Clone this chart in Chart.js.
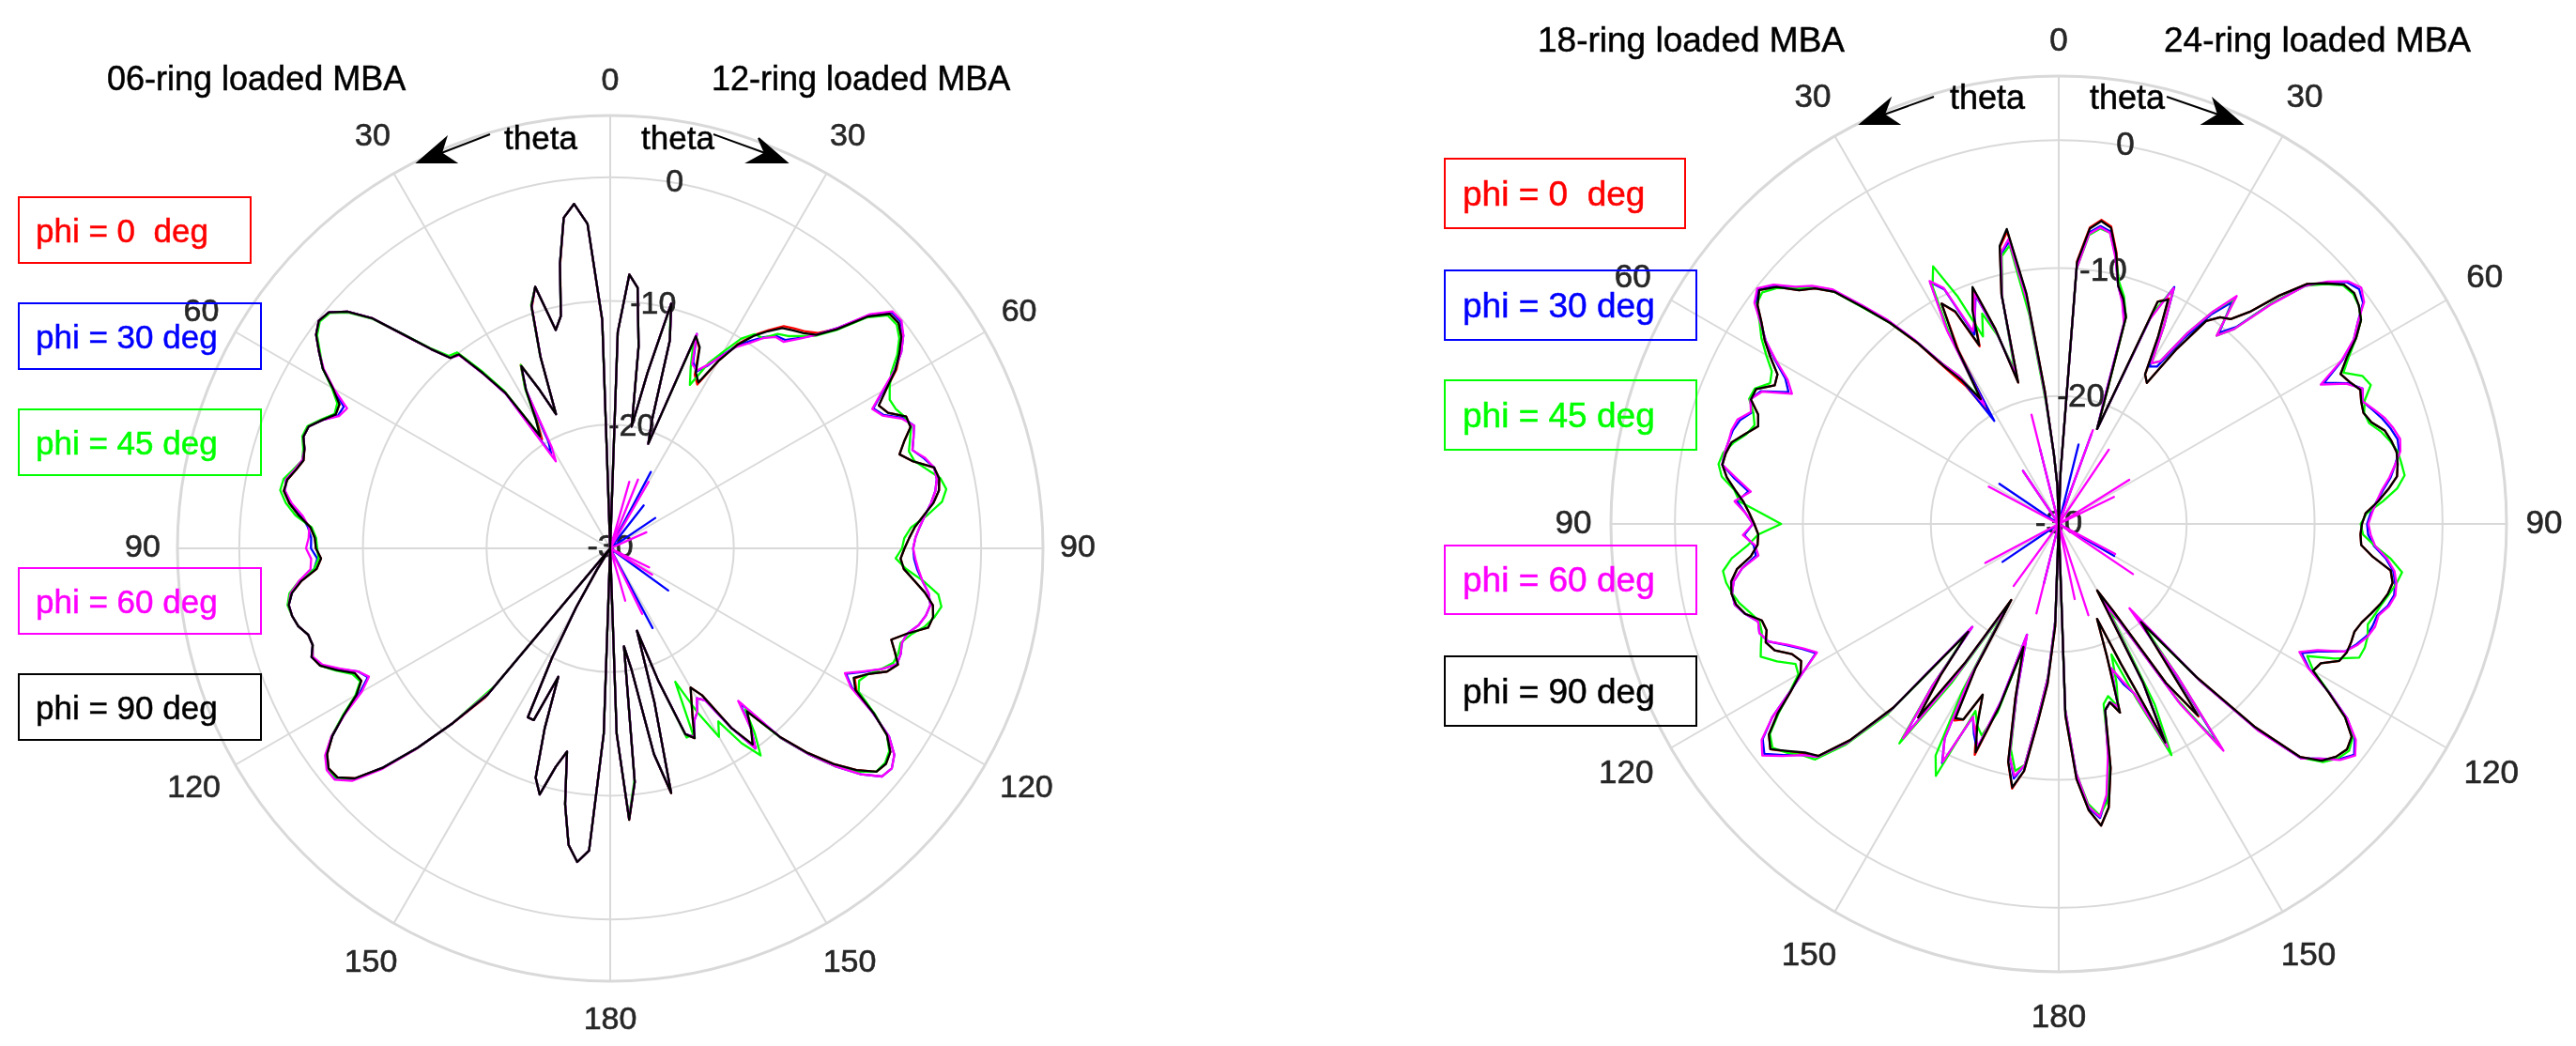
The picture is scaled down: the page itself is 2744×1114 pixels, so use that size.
<!DOCTYPE html>
<html>
<head>
<meta charset="utf-8">
<title>Ring loaded MBA radiation patterns</title>
<script src="https://cdn.jsdelivr.net/npm/chart.js@4.4.1/dist/chart.umd.min.js"></script>
<style>
  body { margin: 0; background: #fff; }
  #page { position: relative; width: 2744px; height: 1114px; overflow: hidden;
          font-family: Arial, "Liberation Sans", Helvetica, sans-serif; }
  canvas { position: absolute; top: 0; }
  .txt { position: absolute; line-height: 1; white-space: pre; transform: translateY(-50%); color: #000;
         -webkit-text-stroke: 0.5px currentColor; }
  .box { position: absolute; box-sizing: border-box; border: 2px solid; display: flex;
         align-items: center; white-space: pre; line-height: 1; -webkit-text-stroke: 0.5px currentColor; }
  svg { position: absolute; left: 0; top: 0; }
</style>
</head>
<body>
<div id="page">
  <canvas id="chartLeft" width="1372" height="1114" style="left:0"></canvas>
  <canvas id="chartRight" width="1372" height="1114" style="left:1372px"></canvas>

  <div class="txt" style="left:114px;top:84px;font-size:36px">06-ring loaded MBA</div>
  <div class="txt" style="left:758px;top:84px;font-size:36px">12-ring loaded MBA</div>
  <div class="txt" style="left:1638px;top:42px;font-size:37px">18-ring loaded MBA</div>
  <div class="txt" style="left:2305px;top:42px;font-size:37px">24-ring loaded MBA</div>

  <div class="txt" style="left:537px;top:146px;font-size:35px">theta</div>
  <div class="txt" style="left:683px;top:146px;font-size:35px">theta</div>
  <div class="txt" style="left:2077px;top:104px;font-size:36px">theta</div>
  <div class="txt" style="left:2226px;top:104px;font-size:36px">theta</div>

  <div class="box" style="left:19px;top:209px;width:249px;height:72px;padding-left:17px;font-size:35px;border-color:#f00;color:#f00">phi = 0  deg</div>
  <div class="box" style="left:19px;top:322px;width:260px;height:72px;padding-left:17px;font-size:35px;border-color:#00f;color:#00f">phi = 30 deg</div>
  <div class="box" style="left:19px;top:435px;width:260px;height:72px;padding-left:17px;font-size:35px;border-color:#0f0;color:#0f0">phi = 45 deg</div>
  <div class="box" style="left:19px;top:604px;width:260px;height:72px;padding-left:17px;font-size:35px;border-color:#f0f;color:#f0f">phi = 60 deg</div>
  <div class="box" style="left:19px;top:717px;width:260px;height:72px;padding-left:17px;font-size:35px;border-color:#000;color:#000">phi = 90 deg</div>

  <div class="box" style="left:1538px;top:168px;width:258px;height:76px;padding-left:18px;font-size:37px;border-color:#f00;color:#f00">phi = 0  deg</div>
  <div class="box" style="left:1538px;top:287px;width:270px;height:76px;padding-left:18px;font-size:37px;border-color:#00f;color:#00f">phi = 30 deg</div>
  <div class="box" style="left:1538px;top:404px;width:270px;height:76px;padding-left:18px;font-size:37px;border-color:#0f0;color:#0f0">phi = 45 deg</div>
  <div class="box" style="left:1538px;top:580px;width:270px;height:75px;padding-left:18px;font-size:37px;border-color:#f0f;color:#f0f">phi = 60 deg</div>
  <div class="box" style="left:1538px;top:698px;width:270px;height:76px;padding-left:18px;font-size:37px;border-color:#000;color:#000">phi = 90 deg</div>

  <svg width="2744" height="1114">
    <g stroke="#000" stroke-width="2" fill="#000">
      <line x1="522" y1="143" x2="470" y2="163"/>
      <polygon points="445,173 475,147 470,163 485,173"/>
      <line x1="760" y1="143" x2="815" y2="163"/>
      <polygon points="838,173 808,147 815,163 797,173"/>
      <line x1="2060" y1="103" x2="2007" y2="122"/>
      <polygon points="1982,132 2013,106 2007,122 2022,132"/>
      <line x1="2308" y1="103" x2="2363" y2="122"/>
      <polygon points="2388,132 2358,106 2363,122 2347,132"/>
    </g>
  </svg>
</div>

<script>
'use strict';

// theta sampled every 2 deg, 0..180 (91 values), gain in dB
const ring06Phi0 = [
  -30, -11.6, -3.7, -2.0, -3.0, -6.7, -10.8, -11.8, -8.0, -9.5,
  -13.5, -18.3, -16.0, -13.5, -15.4, -18.2, -19.6, -14.8, -12.4, -10.0,
  -9.9, -8.3, -6.0, -3.2, -1.4, -0.3, -0.1, -0.6, -1.6, -2.6,
  -4.1, -5.2, -5.3, -4.5, -3.7, -3.6, -4.0, -4.2, -3.8, -3.3,
  -3.2, -3.8, -4.7, -5.7, -6.1, -6.2, -6.6, -6.2, -4.9, -4.0,
  -3.6, -3.7, -4.0, -4.6, -4.7, -4.3, -4.7, -5.8, -7.0, -7.2,
  -6.3, -4.6, -2.9, -1.7, -1.1, -1.2, -2.2, -4.5, -7.6, -11.0,
  -14.2, -30, -30, -30, -28, -24.5, -20.0, -14.8, -14.8, -18.8,
  -14.5, -10.5, -9.3, -11.8, -13.2, -9.0, -5.8, -4.5, -5.5, -15.0,
  -30];
const ring06Phi30 = [
  -30, -11.5, -3.7, -2.0, -3.0, -6.6, -10.8, -11.8, -8.0, -9.4,
  -13.5, -18.3, -16.0, -13.6, -15.5, -20.0, -21.0, -15.0, -12.5, -10.1,
  -9.9, -8.3, -6.0, -3.2, -1.4, -0.3, -0.1, -0.6, -1.6, -2.6,
  -4.1, -5.6, -5.5, -4.5, -3.7, -3.6, -4.0, -4.1, -3.7, -3.2,
  -3.3, -3.9, -4.9, -5.5, -5.8, -5.8, -6.3, -6.0, -4.8, -4.0,
  -3.6, -3.7, -4.0, -4.6, -4.7, -4.3, -4.8, -6.0, -7.3, -7.8,
  -6.6, -4.6, -2.9, -1.6, -1.0, -1.0, -2.1, -4.5, -7.6, -11.0,
  -14.5, -30, -30, -30, -28, -24.5, -20.0, -14.8, -14.8, -18.8,
  -14.5, -10.5, -9.3, -11.8, -13.2, -9.0, -5.8, -4.5, -5.5, -15.0,
  -30];
const ring06Phi45 = [
  -30, -11.5, -3.7, -2.0, -3.0, -6.6, -10.8, -11.8, -8.0, -9.3,
  -13.4, -18.3, -16.0, -13.5, -15.3, -18.0, -19.3, -14.6, -12.2, -9.9,
  -9.7, -8.2, -6.0, -3.3, -1.5, -0.4, -0.2, -0.7, -1.7, -2.6,
  -4.0, -5.0, -5.2, -4.4, -3.6, -3.5, -3.9, -4.1, -3.6, -3.0,
  -2.9, -3.5, -4.4, -5.8, -6.2, -6.3, -6.4, -6.0, -4.7, -3.8,
  -3.5, -3.7, -4.0, -4.6, -4.7, -4.4, -4.7, -5.7, -6.8, -7.1,
  -6.2, -4.5, -2.8, -1.6, -1.0, -1.1, -2.1, -4.4, -7.5, -11.0,
  -15.5, -30, -30, -30, -28, -24.5, -20.0, -14.8, -14.8, -18.8,
  -14.5, -10.5, -9.3, -11.8, -13.2, -9.0, -5.8, -4.5, -5.5, -15.0,
  -30];
const ring06Phi60 = [
  -30, -11.5, -3.7, -2.0, -3.0, -6.6, -10.8, -11.8, -8.0, -9.4,
  -13.5, -18.3, -16.0, -13.6, -15.5, -20.5, -21.7, -15.0, -12.6, -10.2,
  -9.9, -8.3, -6.1, -3.2, -1.4, -0.3, -0.1, -0.6, -1.6, -2.7,
  -4.2, -5.9, -5.6, -4.5, -3.7, -3.6, -4.0, -4.1, -3.7, -3.2,
  -3.3, -4.0, -5.0, -5.6, -5.6, -5.4, -5.8, -5.7, -4.7, -3.9,
  -3.6, -3.7, -4.0, -4.6, -4.7, -4.4, -4.9, -6.1, -7.3, -7.9,
  -6.8, -4.7, -2.8, -1.5, -0.9, -0.9, -1.9, -4.3, -7.5, -11.0,
  -14.8, -30, -30, -30, -28, -24.5, -20.0, -14.8, -14.8, -18.8,
  -14.5, -10.5, -9.3, -11.8, -13.2, -9.0, -5.8, -4.5, -5.5, -15.0,
  -30];
const ring06Phi90 = [
  -30, -11.5, -3.7, -2.0, -3.0, -6.6, -10.8, -11.8, -8.0, -9.4,
  -13.5, -18.3, -16.0, -13.6, -15.5, -18.0, -19.3, -14.8, -12.5, -10.1,
  -9.9, -8.3, -6.0, -3.2, -1.4, -0.3, -0.1, -0.6, -1.6, -2.6,
  -4.1, -5.2, -5.3, -4.5, -3.7, -3.6, -4.0, -4.2, -3.8, -3.3,
  -3.2, -3.8, -4.7, -5.7, -6.1, -6.2, -6.6, -6.2, -4.9, -4.0,
  -3.6, -3.7, -4.0, -4.6, -4.7, -4.3, -4.7, -5.8, -7.0, -7.2,
  -6.3, -4.6, -2.9, -1.7, -1.1, -1.2, -2.2, -4.5, -7.6, -11.0,
  -14.5, -30, -30, -30, -28, -24.5, -20.0, -14.8, -14.8, -18.8,
  -14.5, -10.5, -9.3, -11.8, -13.2, -9.0, -5.8, -4.5, -5.5, -15.0,
  -30];

const ring12Phi0 = [
  -30, -12.5, -7.8, -8.8, -13.5, -20.0, -15.5, -9.6, -12.5, -19.0,
  -21.0, -11.5, -12.3, -14.4, -15.0, -12.5, -10.5, -9.2, -8.2, -7.2,
  -6.8, -6.4, -5.8, -4.4, -2.0, -0.5, -0.4, -0.9, -1.7, -2.7,
  -4.2, -5.4, -5.0, -3.8, -3.8, -4.7, -5.4, -4.5, -3.0, -2.8,
  -3.0, -3.6, -4.5, -5.3, -5.8, -6.2, -6.5, -6.2, -5.3, -4.3,
  -3.5, -3.3, -3.5, -5.0, -6.1, -5.5, -4.9, -5.5, -6.8, -7.6,
  -7.0, -4.9, -3.0, -2.0, -1.7, -1.9, -3.2, -4.9, -7.0, -9.5,
  -12.8, -11.5, -10.3, -12.5, -16.0, -17.0, -16.0, -14.8, -13.2, -13.8,
  -18.5, -23.0, -17.0, -9.6, -13.0, -20.0, -22.0, -11.0, -8.0, -15.0,
  -30];
const ring12Phi30 = [
  -30, -12.5, -7.8, -8.8, -13.5, -20.0, -15.5, -9.6, -12.5, -19.0,
  -21.0, -11.3, -13.5, -14.1, -13.3, -12.0, -10.7, -9.8, -8.9, -8.2,
  -8.0, -7.1, -6.0, -4.3, -1.8, -0.3, -0.2, -0.7, -1.6, -2.9,
  -4.5, -5.9, -5.4, -4.1, -3.5, -3.9, -4.3, -3.6, -3.0, -3.0,
  -3.3, -3.8, -4.4, -4.9, -5.3, -5.5, -5.4, -5.1, -4.6, -4.0,
  -3.7, -3.9, -4.3, -5.0, -5.2, -5.0, -5.0, -6.0, -7.2, -8.4,
  -7.4, -5.0, -2.8, -1.6, -1.1, -1.3, -2.7, -4.6, -6.8, -9.4,
  -13.7, -11.5, -10.0, -12.5, -15.5, -16.0, -15.0, -14.5, -13.3, -13.8,
  -18.5, -23.0, -17.0, -9.7, -13.0, -20.0, -22.0, -11.0, -8.1, -15.0,
  -30];
const ring12Phi45 = [
  -30, -12.5, -7.8, -8.8, -13.5, -20.0, -15.5, -9.8, -12.5, -19.0,
  -21.0, -12.0, -14.0, -15.3, -13.0, -11.6, -10.0, -9.1, -9.0, -8.0,
  -7.6, -6.9, -6.1, -4.6, -2.1, -0.7, -0.6, -1.1, -2.0, -3.2,
  -3.9, -4.4, -4.3, -3.9, -3.75, -4.2, -4.6, -4.4, -3.6, -2.7,
  -2.4, -2.9, -4.2, -5.6, -6.2, -6.4, -6.9, -6.0, -4.5, -3.2,
  -2.8, -3.2, -3.8, -4.7, -5.3, -5.2, -5.3, -6.0, -6.8, -7.2,
  -6.8, -4.8, -3.0, -2.1, -1.8, -1.9, -3.0, -4.6, -6.8, -9.3,
  -13.0, -11.0, -9.3, -11.0, -13.5, -12.4, -15.0, -18.0, -13.5, -13.5,
  -18.5, -23.0, -17.0, -9.8, -13.0, -20.0, -22.0, -11.2, -8.2, -15.0,
  -30];
const ring12Phi60 = [
  -30, -12.5, -7.8, -8.8, -13.5, -20.0, -15.5, -9.6, -12.5, -19.0,
  -21.0, -11.3, -13.7, -14.0, -13.2, -12.1, -10.8, -10.0, -9.0, -8.3,
  -8.2, -7.2, -6.0, -4.3, -1.7, -0.2, -0.1, -0.7, -1.6, -2.9,
  -4.6, -6.0, -5.5, -4.2, -3.5, -3.9, -4.3, -3.5, -3.0, -3.0,
  -3.3, -3.8, -4.4, -4.9, -5.3, -5.5, -5.3, -5.0, -4.6, -4.0,
  -3.7, -3.9, -4.3, -5.0, -5.2, -5.0, -5.0, -6.0, -7.3, -8.5,
  -7.5, -5.0, -2.8, -1.6, -1.1, -1.3, -2.7, -4.6, -6.8, -9.4,
  -13.9, -11.5, -10.0, -12.5, -15.5, -16.0, -15.0, -14.5, -13.3, -13.8,
  -18.5, -23.0, -17.0, -9.7, -13.0, -20.0, -22.0, -11.0, -8.1, -15.0,
  -30];
const ring12Phi90 = [
  -30, -12.5, -7.8, -8.8, -13.5, -20.0, -15.5, -9.6, -12.5, -19.0,
  -21.0, -11.5, -12.2, -14.2, -14.8, -12.5, -10.6, -9.3, -8.3, -7.4,
  -7.0, -6.6, -6.0, -4.5, -2.0, -0.5, -0.4, -0.9, -1.8, -2.8,
  -4.2, -5.4, -5.0, -3.8, -3.8, -4.7, -5.4, -4.5, -3.0, -2.8,
  -3.0, -3.6, -4.5, -5.3, -5.8, -6.2, -6.5, -6.2, -5.3, -4.3,
  -3.5, -3.3, -3.5, -5.0, -6.1, -5.5, -4.9, -5.5, -6.8, -7.7,
  -7.1, -4.9, -3.0, -2.0, -1.7, -1.9, -3.2, -4.9, -7.0, -9.5,
  -12.8, -11.5, -10.4, -12.5, -16.0, -17.0, -16.0, -14.8, -13.2, -13.8,
  -18.5, -23.0, -17.0, -9.6, -13.0, -20.0, -22.0, -11.0, -8.0, -15.0,
  -30];

const ring18Phi0 = [
  -30, -27.0, -24.5, -19.5, -11.9, -6.8, -7.9, -11.5, -18.5, -14.0,
  -10.4, -12.2, -14.8, -11.6, -10.5, -14.3, -20.0, -17.0, -15.0, -12.1,
  -9.5, -7.3, -4.8, -3.5, -2.7, -1.2, -0.3, -0.9, -2.0, -2.9,
  -4.0, -5.1, -5.3, -4.1, -4.05, -5.0, -5.3, -4.5, -3.65, -3.4,
  -3.3, -3.8, -4.55, -5.3, -5.8, -6.2, -6.5, -6.4, -5.8, -4.6,
  -4.0, -3.85, -4.0, -4.5, -5.6, -5.7, -5.3, -5.7, -6.8, -7.2,
  -6.7, -5.3, -3.5, -2.0, -1.4, -2.3, -3.2, -3.9, -6.5, -10.7,
  -19.0, -15.0, -11.3, -17.0, -23.0, -17.0, -12.6, -13.0, -15.4, -12.8,
  -10.8, -15.0, -20.0, -16.0, -11.0, -9.0, -10.5, -14.5, -17.5, -22.0,
  -30];
const ring18Phi30 = [
  -30, -27.0, -24.5, -20.0, -12.8, -7.6, -8.4, -11.6, -18.0, -14.3,
  -11.0, -12.5, -13.8, -9.6, -8.6, -12.8, -20.5, -16.2, -14.6, -11.9,
  -9.3, -7.1, -4.6, -3.3, -2.4, -1.0, -0.2, -0.7, -1.9, -3.0,
  -4.4, -5.8, -6.5, -4.5, -4.0, -4.5, -3.8, -3.5, -3.4, -3.3,
  -3.3, -4.4, -5.6, -4.8, -5.5, -6.1, -5.4, -6.1, -6.2, -5.0,
  -4.2, -3.9, -3.9, -4.5, -5.3, -5.1, -5.5, -6.7, -7.7, -8.5,
  -7.0, -5.2, -3.0, -1.4, -0.8, -1.9, -3.0, -3.8, -6.3, -10.5,
  -19.5, -14.0, -9.3, -16.0, -22.5, -16.0, -11.0, -9.2, -13.5, -12.3,
  -11.3, -15.5, -21.0, -16.5, -11.5, -9.8, -11.0, -15.0, -18.0, -22.5,
  -30];
const ring18Phi45 = [
  -30, -27.0, -24.5, -20.5, -13.5, -7.9, -8.6, -11.8, -17.5, -14.5,
  -12.5, -14.2, -10.5, -7.6, -9.0, -13.0, -18.5, -16.0, -14.5, -12.0,
  -9.5, -7.4, -4.8, -3.4, -2.5, -1.3, -0.6, -0.8, -1.8, -2.6,
  -3.6, -4.6, -4.9, -4.0, -3.9, -4.6, -5.0, -4.6, -3.8, -3.2,
  -3.0, -3.4, -4.5, -5.0, -6.8, -8.3, -6.5, -5.6, -4.3, -3.5,
  -3.6, -3.9, -4.3, -4.9, -5.4, -5.3, -4.9, -4.5, -5.5, -6.7,
  -6.5, -5.2, -3.6, -2.1, -1.6, -2.2, -3.0, -3.5, -6.0, -10.0,
  -19.0, -14.0, -8.8, -15.0, -22.0, -15.0, -9.5, -8.1, -14.0, -13.0,
  -12.4, -14.5, -20.0, -16.5, -12.0, -10.4, -11.0, -15.0, -18.0, -22.5,
  -30];
const ring18Phi60 = [
  -30, -27.0, -24.5, -20.0, -12.5, -7.4, -8.3, -11.7, -18.0, -14.3,
  -10.8, -12.5, -13.5, -9.5, -8.5, -12.5, -19.0, -16.0, -14.5, -11.8,
  -9.2, -7.0, -4.5, -3.2, -2.3, -0.9, -0.1, -0.6, -1.9, -3.0,
  -4.5, -6.0, -6.8, -4.6, -4.0, -4.4, -3.6, -3.4, -3.4, -3.3,
  -3.3, -4.6, -5.8, -4.6, -5.5, -6.1, -5.3, -6.2, -6.4, -5.0,
  -4.2, -3.9, -3.9, -4.5, -5.3, -5.1, -5.5, -6.8, -7.8, -8.6,
  -7.0, -5.2, -3.0, -1.3, -0.6, -1.8, -3.0, -3.8, -6.3, -10.5,
  -19.5, -14.0, -9.3, -16.0, -22.5, -16.0, -11.0, -9.3, -13.5, -12.5,
  -11.5, -15.5, -21.0, -16.5, -11.5, -10.0, -11.0, -15.0, -18.0, -22.5,
  -30];
const ring18Phi90 = [
  -30, -27.0, -24.5, -19.5, -11.8, -6.6, -7.8, -11.5, -18.5, -14.0,
  -10.3, -12.0, -14.7, -11.5, -10.5, -14.0, -18.5, -16.5, -14.8, -12.0,
  -9.5, -7.3, -4.8, -3.5, -2.7, -1.2, -0.3, -0.9, -2.0, -2.9,
  -4.0, -5.1, -5.3, -4.1, -4.05, -5.0, -5.3, -4.5, -3.65, -3.4,
  -3.3, -3.8, -4.55, -5.3, -5.8, -6.2, -6.5, -6.4, -5.8, -4.6,
  -4.0, -3.85, -4.0, -4.5, -5.6, -5.7, -5.3, -5.7, -6.8, -7.2,
  -6.7, -5.3, -3.5, -2.0, -1.4, -2.4, -3.3, -3.9, -6.5, -10.7,
  -19.0, -15.0, -11.3, -17.0, -23.0, -17.0, -12.8, -13.0, -15.4, -13.0,
  -11.0, -15.0, -20.0, -16.0, -11.0, -9.1, -10.5, -14.5, -17.5, -22.0,
  -30];

const ring24Phi0 = [
  -30, -26.0, -9.4, -6.7, -6.0, -6.4, -8.3, -10.8, -11.7, -13.0,
  -19.0, -22.0, -11.0, -10.4, -13.5, -16.5, -17.0, -13.5, -10.4, -9.5,
  -9.1, -7.7, -5.2, -3.0, -1.9, -0.9, -0.7, -1.0, -1.5, -2.6,
  -4.0, -5.05, -4.7, -4.2, -4.5, -4.65, -4.3, -3.5, -3.2, -3.0,
  -3.1, -3.3, -4.1, -5.0, -6.0, -6.3, -6.4, -6.3, -5.3, -3.8,
  -3.5, -3.7, -4.1, -4.6, -5.1, -5.4, -5.35, -5.35, -5.6, -6.8,
  -7.05, -5.1, -3.0, -1.7, -1.4, -1.7, -2.35, -3.8, -8.0, -13.9,
  -20.0, -17.0, -11.4, -15.0, -22.0, -24.0, -16.0, -11.0, -18.0, -22.0,
  -19.0, -14.5, -15.5, -15.0, -10.5, -7.5, -6.2, -7.5, -10.0, -15.0,
  -30];
const ring24Phi30 = [
  -30, -26.0, -9.9, -7.1, -6.5, -6.8, -8.6, -10.8, -11.9, -13.4,
  -19.5, -22.0, -12.3, -9.4, -12.5, -15.8, -15.5, -12.5, -9.8, -8.0,
  -10.5, -9.3, -6.0, -3.2, -1.8, -0.6, -0.2, -0.6, -1.8, -2.8,
  -4.4, -6.5, -4.9, -4.0, -4.4, -3.9, -3.4, -3.0, -2.7, -2.8,
  -3.3, -3.8, -4.5, -5.1, -5.6, -5.9, -5.8, -5.3, -4.3, -3.6,
  -3.3, -3.2, -3.5, -4.1, -4.2, -4.4, -4.9, -5.5, -7.3, -8.5,
  -7.4, -5.0, -2.8, -1.4, -0.7, -1.4, -2.6, -3.6, -7.6, -13.6,
  -21.0, -15.5, -8.5, -13.3, -21.0, -23.0, -16.0, -10.7, -15.5, -16.5,
  -18.0, -15.0, -15.5, -15.0, -11.3, -8.3, -6.8, -7.7, -10.4, -15.4,
  -30];
const ring24Phi45 = [
  -30, -26.0, -10.0, -7.3, -6.7, -6.9, -8.6, -10.5, -11.5, -13.0,
  -19.0, -22.0, -12.0, -9.6, -12.5, -15.5, -15.0, -12.0, -9.5, -7.6,
  -10.8, -9.5, -6.0, -3.2, -2.0, -1.0, -0.8, -1.0, -1.5, -2.6,
  -3.8, -4.8, -3.6, -3.3, -4.2, -4.6, -4.5, -3.8, -3.3, -2.9,
  -2.8, -2.7, -3.4, -4.6, -5.9, -6.4, -6.2, -5.2, -3.9, -2.9,
  -3.2, -3.6, -4.0, -4.3, -4.6, -4.3, -4.2, -4.3, -6.0, -8.0,
  -7.0, -5.0, -3.0, -1.6, -1.2, -1.5, -2.2, -3.7, -7.8, -13.5,
  -20.0, -15.0, -8.3, -13.5, -21.0, -22.0, -14.0, -9.9, -15.0, -19.0,
  -16.8, -15.0, -16.0, -15.5, -11.0, -8.0, -7.0, -8.0, -10.5, -15.5,
  -30];
const ring24Phi60 = [
  -30, -26.0, -10.0, -7.2, -6.6, -6.9, -8.7, -10.8, -12.0, -13.5,
  -19.5, -22.0, -12.5, -9.5, -12.5, -15.5, -15.0, -12.0, -9.5, -7.4,
  -10.8, -9.5, -6.2, -3.2, -1.7, -0.5, 0.0, -0.5, -1.8, -2.8,
  -4.5, -6.8, -5.0, -4.0, -4.4, -3.8, -3.2, -2.8, -2.5, -2.7,
  -3.3, -3.9, -4.6, -5.1, -5.5, -5.8, -5.6, -5.2, -4.2, -3.5,
  -3.2, -3.1, -3.4, -4.0, -4.0, -4.3, -4.8, -5.5, -7.5, -8.7,
  -7.5, -5.0, -2.8, -1.3, -0.6, -1.3, -2.6, -3.6, -7.5, -13.5,
  -21.4, -15.0, -8.1, -13.0, -21.0, -23.0, -16.0, -10.6, -15.5, -16.8,
  -18.0, -15.0, -15.5, -15.0, -11.5, -8.5, -6.9, -7.8, -10.5, -15.5,
  -30];
const ring24Phi90 = [
  -30, -26.0, -9.5, -6.8, -6.1, -6.5, -8.4, -10.8, -11.7, -13.0,
  -19.0, -22.0, -11.0, -10.5, -13.5, -16.5, -17.0, -13.5, -10.4, -9.5,
  -9.1, -7.7, -5.2, -3.0, -1.9, -0.9, -0.7, -1.0, -1.5, -2.6,
  -4.0, -5.05, -4.7, -4.2, -4.5, -4.65, -4.3, -3.5, -3.2, -3.0,
  -3.1, -3.3, -4.1, -5.0, -6.0, -6.3, -6.4, -6.3, -5.3, -3.8,
  -3.5, -3.7, -4.1, -4.6, -5.1, -5.4, -5.35, -5.35, -5.6, -6.8,
  -7.05, -5.1, -3.0, -1.7, -1.4, -1.7, -2.35, -3.8, -8.0, -13.9,
  -20.0, -17.0, -11.5, -15.0, -22.0, -24.0, -16.0, -11.0, -18.0, -22.0,
  -19.0, -14.5, -15.5, -15.0, -10.5, -7.5, -6.2, -7.5, -10.0, -15.0,
  -30];

// small lobes near the centre: [plot angle clockwise from top (deg), dB]
const spikesLeftBlue = [[28, -23.0], [38, -25.6], [56, -25.6], [126, -24.2], [152, -22.7]];
const spikesLeftMagenta = [[16, -24.4], [22, -24.0], [30, -23.8], [66, -26.8], [116, -26.5],
                           [122, -26.0], [154, -24.1], [164, -25.6]];
const spikesRightBlue = [[14, -23.6], [20, -22.5], [120, -25.0], [194, -25.2], [236, -24.7],
                         [304, -24.4], [326, -25.0], [346, -24.0]];
const spikesRightMagenta = [[20, -22.2], [34, -23.0], [58, -23.5], [64, -25.2], [118, -25.0],
                            [124, -23.0], [162, -22.5], [168, -24.0], [194, -22.8], [216, -24.0],
                            [242, -23.5], [298, -23.8], [326, -25.0], [346, -21.2]];

const phiNames = ['phi = 0  deg', 'phi = 30 deg', 'phi = 45 deg', 'phi = 60 deg', 'phi = 90 deg'];
const phiColors = ['#ff0000', '#0000ff', '#00ff00', '#ff00ff', '#000000'];
const phiOrder = [4, 3, 2, 1, 0];   // black on top, red at the bottom
const thetaTicks = [0, 30, 60, 90, 120, 150, 180];
const radialTicks = [-30, -20, -10, 0];

const angleLabels = [];
for (let i = 0; i < 180; i++) angleLabels.push(String(i * 2));

// right half: theta clockwise from top; left half: theta counter-clockwise
function joinHalves(rightHalf, leftHalf) {
  const out = [];
  for (let i = 0; i < 180; i++) out.push(i <= 90 ? rightHalf[i] : leftHalf[180 - i]);
  return out;
}

function spikeSeries(pairs) {
  const out = new Array(180).fill(null);
  pairs.forEach(([deg, v]) => {
    const k = deg / 2;
    out[k] = v;
    [k - 1, k + 1].forEach(j => {
      const m = (j + 180) % 180;
      if (out[m] === null) out[m] = -30;
    });
  });
  return out;
}

const polarLabels = {
  id: 'polarLabels',
  beforeDatasetsDraw(chart, args, opts) {
    const r = chart.scales.r;
    const ctx = chart.ctx;
    ctx.save();
    ctx.fillStyle = '#262626';
    ctx.strokeStyle = '#262626';
    ctx.lineWidth = 0.6;
    ctx.font = opts.size + 'px Arial, "Liberation Sans", sans-serif';
    ctx.textAlign = 'center';
    ctx.textBaseline = 'middle';
    const put = (s, p) => { ctx.fillText(s, p.x, p.y); ctx.strokeText(s, p.x, p.y); };
    radialTicks.forEach(v => put(String(v), r.getPointPositionForValue(5, v)));
    thetaTicks.forEach((t, k) => {
      const dist = r.drawingArea + opts.gaps[k];
      const idx = [t / 2];
      if (t > 0 && t < 180) idx.push((360 - t) / 2);
      idx.forEach(i => put(String(t), r.getPointPosition(i, dist)));
    });
    ctx.restore();
  }
};

function makeChart(canvasId, leftRing, rightRing, spikesBlue, spikesMagenta, padding, labelOpts) {
  const datasets = phiNames.map((name, k) => ({
    label: name,
    data: joinHalves(rightRing[k], leftRing[k]),
    borderColor: phiColors[k],
    order: phiOrder[k]
  }));
  datasets.push({ label: 'phi = 30 deg', data: spikeSeries(spikesBlue), borderColor: phiColors[1], order: 3 });
  datasets.push({ label: 'phi = 60 deg', data: spikeSeries(spikesMagenta), borderColor: phiColors[3], order: 1 });

  return new Chart(document.getElementById(canvasId), {
    type: 'radar',
    data: { labels: angleLabels, datasets: datasets },
    options: {
      responsive: false,
      animation: false,
      events: [],
      layout: { padding: padding },
      plugins: {
        legend: { display: false },
        tooltip: { enabled: false },
        polarLabels: labelOpts
      },
      elements: {
        point: { radius: 0, hitRadius: 0, hoverRadius: 0 },
        line: { borderWidth: 2.3, tension: 0, fill: false, borderJoinStyle: 'round' }
      },
      scales: {
        r: {
          min: -30,
          max: 5,
          beginAtZero: false,
          ticks: { display: false, stepSize: 10 },
          pointLabels: { display: false },
          grid: {
            circular: true,
            color: '#d9d9d9',
            lineWidth: ctx => (ctx.tick && ctx.tick.value === 5 ? 3 : 2)
          },
          angleLines: {
            color: '#d9d9d9',
            lineWidth: ctx => (ctx.index % 15 === 0 ? 2 : 0)
          }
        }
      }
    },
    plugins: [polarLabels]
  });
}

makeChart('chartLeft',
  [ring06Phi0, ring06Phi30, ring06Phi45, ring06Phi60, ring06Phi90],
  [ring12Phi0, ring12Phi30, ring12Phi45, ring12Phi60, ring12Phi90],
  spikesLeftBlue, spikesLeftMagenta,
  { left: 189, right: 261, top: 123, bottom: 69 },
  { size: 34, gaps: [36, 45, 42, 37, 51, 49, 42] });

makeChart('chartRight',
  [ring18Phi0, ring18Phi30, ring18Phi45, ring18Phi60, ring18Phi90],
  [ring24Phi0, ring24Phi30, ring24Phi45, ring24Phi60, ring24Phi90],
  spikesRightBlue, spikesRightMagenta,
  { left: 344, right: 74, top: 81, bottom: 79 },
  { size: 35, gaps: [37, 47, 47, 40, 55, 55, 49] });
</script>
</body>
</html>
